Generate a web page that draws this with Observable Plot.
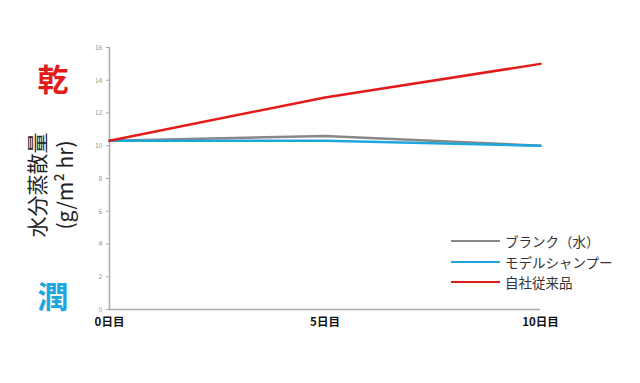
<!DOCTYPE html>
<html><head><meta charset="utf-8">
<script src="https://cdn.jsdelivr.net/npm/d3@7"></script>
<script src="https://cdn.jsdelivr.net/npm/@observablehq/plot@0.6"></script>
<style>
body{margin:0;background:#fff;font-family:"Noto Sans CJK JP","Noto Sans",sans-serif;}
#wrap{position:relative;width:640px;height:383px;overflow:hidden;}
#chart{position:absolute;left:0;top:0;}
.big{position:absolute;font-weight:bold;font-size:31px;line-height:1;transform:translate(-50%,-50%);}
.ylab{position:absolute;left:50px;top:185px;transform:translate(-50%,-50%) rotate(-90deg);font-size:21px;line-height:28px;color:#222;text-align:center;white-space:nowrap;}
#legend{position:absolute;left:451px;top:231px;font-size:13.5px;color:#333;}
#legend div{display:flex;align-items:center;height:20.5px;}
#legend span.sw{display:inline-block;width:49px;height:2px;margin-right:5px;}
</style></head>
<body><div id="wrap"><div id="chart"></div></div>
<script>
const days = [0, 5, 10];
const seriesNames = ["ブランク（水）", "モデルシャンプー", "自社従来品"];
const blank = [10.3, 10.6, 10.0];
const model = [10.3, 10.3, 10.0];
const own = [10.3, 12.95, 15.0];
const colors = ["#888888", "#1ea6df", "#e21b1b"];
const yTicks = [0, 2, 4, 6, 8, 10, 12, 14, 16];
const xTickSuffix = "日目";
const yLabelLines = ["水分蒸散量", "(g/m² hr)"];
const dryLabel = "乾", wetLabel = "潤";

const allSeries = [blank, model, own];
const data = [];
allSeries.forEach((vals, si) => vals.forEach((v, i) => data.push({day: days[i], value: v, series: seriesNames[si]})));

const plot = Plot.plot({
  width: 640, height: 383,
  marginLeft: 109, marginRight: 100, marginTop: 47, marginBottom: 74,
  style: {fontFamily: '"Noto Sans CJK JP","Noto Sans",sans-serif', background: "#fff"},
  x: {domain: [0, 10]},
  y: {domain: [0, 16]},
  color: {domain: seriesNames, range: colors},
  marks: [
    Plot.axisY({ticks: yTicks, tickSize: 3, tickPadding: 4, fontSize: 7, stroke: "#aaa", fill: "#999", label: null}),
    Plot.axisX({ticks: days, tickSize: 0, tickPadding: 8, fontSize: 11.5, fontWeight: "bold", fill: "#111", tickFormat: d => d + xTickSuffix, label: null}),
    Plot.ruleX([0], {stroke: "#aaa", strokeWidth: 1.5}),
    Plot.ruleY([0], {stroke: "#aaa", strokeWidth: 1.5}),
    Plot.line(data, {x: "day", y: "value", z: "series", stroke: "series", strokeWidth: 2.5})
  ]
});
document.getElementById("chart").appendChild(plot);

const wrap = document.getElementById("wrap");
const yS = plot.scale("y");
const dry = document.createElement("div");
dry.className = "big"; dry.textContent = dryLabel; dry.style.color = colors[2];
dry.style.left = "53px"; dry.style.top = "77px";
wrap.appendChild(dry);
const wet = document.createElement("div");
wet.className = "big"; wet.textContent = wetLabel; wet.style.color = colors[1];
wet.style.left = "53px"; wet.style.top = "294px";
wrap.appendChild(wet);
const yl = document.createElement("div");
yl.className = "ylab"; yl.innerHTML = yLabelLines.join("<br>");
wrap.appendChild(yl);

const leg = document.createElement("div");
leg.id = "legend";
seriesNames.forEach((n, i) => {
  const row = document.createElement("div");
  row.innerHTML = `<span class="sw" style="background:${colors[i]}"></span><span>${n}</span>`;
  leg.appendChild(row);
});
wrap.appendChild(leg);
</script></body></html>
